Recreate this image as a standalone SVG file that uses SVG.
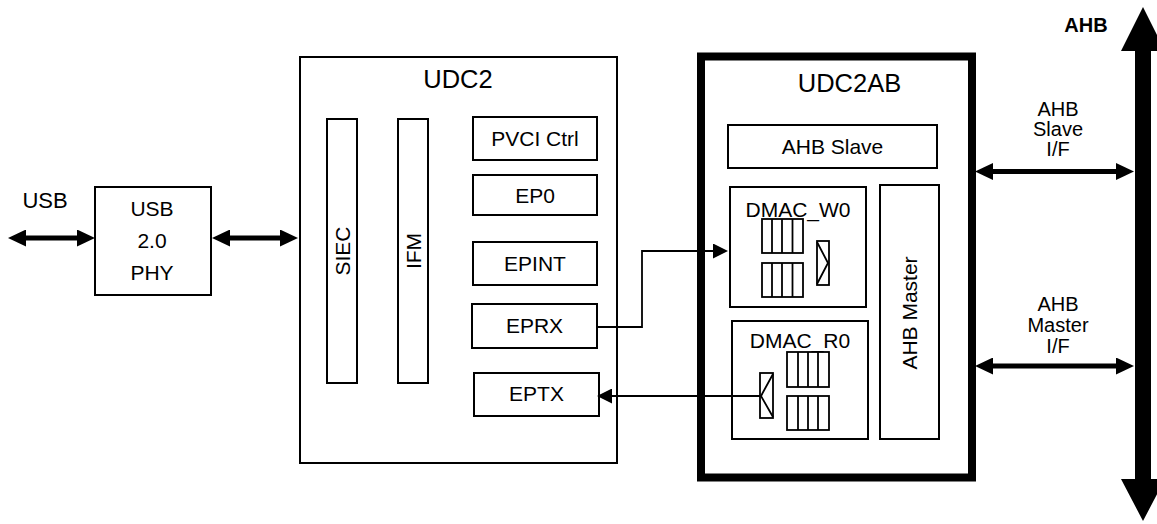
<svg xmlns="http://www.w3.org/2000/svg" width="1157" height="524" viewBox="0 0 1157 524">
<defs>
<style>
.b{fill:#fff;stroke:#000;stroke-width:2}
.c{fill:none;stroke:#000;stroke-width:1.8}
.t{font-family:"Liberation Sans",Arial,sans-serif;font-size:21px;fill:#000;text-anchor:middle}
.h{font-size:25.5px}
.tk{stroke:#000;stroke-width:5;fill:none}
</style>
<marker id="big" markerUnits="userSpaceOnUse" markerWidth="18" markerHeight="17" refX="8" refY="8.5" orient="auto-start-reverse" viewBox="0 0 18 17">
<path d="M0,0 L18,8.5 L0,17 z" fill="#000"/>
</marker>
<marker id="sm" markerUnits="userSpaceOnUse" markerWidth="15" markerHeight="15" refX="5" refY="7.5" orient="auto" viewBox="0 0 15 15">
<path d="M0,0 L15,7.5 L0,15 z" fill="#000"/>
</marker>
</defs>
<rect width="1157" height="524" fill="#fff"/>

<g id="usb-label"><text class="t" x="45" y="208" style="font-size:22px">USB</text></g>

<g id="phy">
<rect class="b" x="95" y="187" width="116" height="108"/>
<text class="t" x="152" y="216">USB</text>
<text class="t" x="152" y="248">2.0</text>
<text class="t" x="152" y="280">PHY</text>
</g>

<g id="udc2">
<rect class="b" x="300" y="57" width="317" height="406"/>
<text class="t h" x="458" y="88">UDC2</text>
</g>
<g id="siec">
<rect class="b" x="327" y="119" width="30" height="264"/>
<text class="t" transform="translate(342,251) rotate(-90)" y="7.5">SIEC</text>
</g>
<g id="ifm">
<rect class="b" x="398" y="119" width="30" height="264"/>
<text class="t" transform="translate(413,251) rotate(-90)" y="7.5">IFM</text>
</g>
<g id="pvci"><rect class="b" x="473" y="117" width="124" height="43"/><text class="t" x="535" y="146">PVCI Ctrl</text></g>
<g id="ep0"><rect class="b" x="473" y="175" width="124" height="40"/><text class="t" x="535" y="202.5">EP0</text></g>
<g id="epint"><rect class="b" x="473" y="242" width="124" height="43"/><text class="t" x="535" y="271">EPINT</text></g>
<g id="eprx"><rect class="b" x="472" y="304" width="125" height="44"/><text class="t" x="534.5" y="333">EPRX</text></g>
<g id="eptx"><rect class="b" x="474" y="373" width="125" height="43"/><text class="t" x="536.5" y="401">EPTX</text></g>

<g id="udc2ab">
<rect x="701" y="56.5" width="271" height="421" fill="#fff" stroke="#000" stroke-width="8"/>
<text class="t h" x="849.5" y="92">UDC2AB</text>
</g>
<g id="ahbslave"><rect class="b" x="728" y="125" width="209" height="43"/><text class="t" x="832.5" y="154">AHB Slave</text></g>

<g id="dmacw0">
<rect class="b" x="730" y="187" width="136" height="120"/>
<text class="t" x="798" y="217">DMAC_W0</text>
<g class="c">
<rect x="762" y="219" width="41" height="34"/>
<line x1="772" y1="219" x2="772" y2="253"/><line x1="782" y1="219" x2="782" y2="253"/><line x1="792.5" y1="219" x2="792.5" y2="253"/>
<rect x="762" y="263" width="41" height="34"/>
<line x1="772" y1="263" x2="772" y2="297"/><line x1="782" y1="263" x2="782" y2="297"/><line x1="792.5" y1="263" x2="792.5" y2="297"/>
<rect x="817" y="241" width="12" height="44"/>
<polyline points="817,242 828,263 817,284"/>
</g>
</g>

<g id="dmacr0">
<rect class="b" x="732" y="321" width="136" height="118"/>
<text class="t" x="800" y="348">DMAC_R0</text>
<g class="c">
<rect x="787" y="352" width="42" height="35"/>
<line x1="798" y1="352" x2="798" y2="387"/><line x1="808" y1="352" x2="808" y2="387"/><line x1="818" y1="352" x2="818" y2="387"/>
<rect x="787" y="396" width="42" height="34"/>
<line x1="798" y1="396" x2="798" y2="430"/><line x1="808" y1="396" x2="808" y2="430"/><line x1="818" y1="396" x2="818" y2="430"/>
<rect x="760" y="373" width="13" height="45"/>
<polyline points="773,374 761,396 773,417"/>
</g>
</g>

<g id="ahbmaster">
<rect class="b" x="880" y="185" width="59" height="254"/>
<text class="t" transform="translate(909.5,313) rotate(-90)" y="7.5">AHB Master</text>
</g>

<g id="ahb-bus">
<polygon points="1143,7 1165,51 1151,51 1151,479 1165,479 1143,521 1121,479 1135,479 1135,51 1121,51" fill="#000"/>
<text class="t" x="1086" y="32" style="font-weight:bold;font-size:20px">AHB</text>
</g>

<g id="if-labels">
<text class="t" x="1058" y="116" style="font-size:20px">AHB</text>
<text class="t" x="1058" y="136" style="font-size:20px">Slave</text>
<text class="t" x="1058" y="156" style="font-size:20px">I/F</text>
<text class="t" x="1058" y="311" style="font-size:20px">AHB</text>
<text class="t" x="1058" y="332" style="font-size:20px">Master</text>
<text class="t" x="1058" y="353" style="font-size:20px">I/F</text>
</g>

<g id="connectors">
<line class="tk" x1="18" y1="238" x2="85" y2="238" marker-start="url(#big)" marker-end="url(#big)"/>
<line class="tk" x1="222" y1="238" x2="288" y2="238" marker-start="url(#big)" marker-end="url(#big)"/>
<line class="tk" x1="985" y1="171.5" x2="1124" y2="171.5" marker-start="url(#big)" marker-end="url(#big)"/>
<line class="tk" x1="985" y1="366" x2="1124" y2="366" marker-start="url(#big)" marker-end="url(#big)"/>
<polyline class="c" points="597,327 642,327 642,251 718,251" marker-end="url(#sm)"/>
<line class="c" x1="760" y1="396" x2="607" y2="396" marker-end="url(#sm)"/>
</g>
</svg>
